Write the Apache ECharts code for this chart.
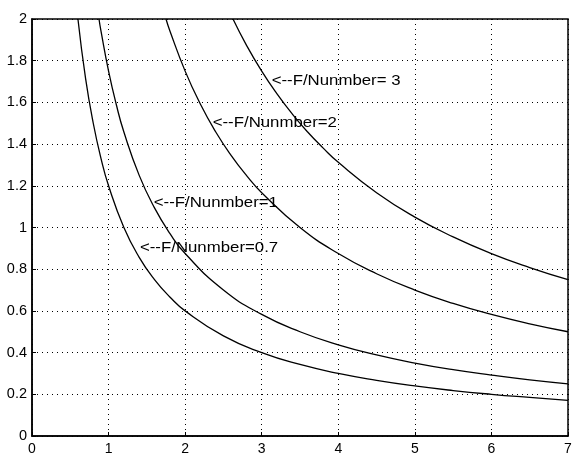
<!DOCTYPE html>
<html><head><meta charset="utf-8">
<script src="https://cdn.jsdelivr.net/npm/echarts@6/dist/echarts.min.js"></script>
<style>html,body{margin:0;padding:0;background:#fff}#c{width:576px;height:456px}</style>
</head><body><div id="c"></div>
<script>
// Data: [x, y] pairs
var curve07 = [[0.6,2.0],[0.7,1.714],[0.8,1.5],[0.9,1.333],[1.0,1.2],[1.2,1.0],[1.4,0.857],[1.6,0.75],[1.8,0.667],[2.0,0.6],[2.5,0.48],[3.0,0.4],[3.5,0.343],[4.0,0.3],[4.5,0.267],[5.0,0.24],[5.5,0.218],[6.0,0.2],[6.5,0.185],[7.0,0.171]];
var curve1 = [[0.875,2.0],[0.9,1.944],[1.0,1.75],[1.1,1.591],[1.2,1.458],[1.4,1.25],[1.6,1.094],[1.8,0.972],[2.0,0.875],[2.5,0.7],[3.0,0.583],[3.5,0.5],[4.0,0.4375],[4.5,0.389],[5.0,0.35],[5.5,0.318],[6.0,0.292],[6.5,0.269],[7.0,0.25]];
var curve2 = [[1.75,2.0],[1.8,1.944],[2.0,1.75],[2.2,1.591],[2.4,1.458],[2.6,1.346],[2.8,1.25],[3.0,1.167],[3.5,1.0],[4.0,0.875],[4.5,0.778],[5.0,0.7],[5.5,0.636],[6.0,0.583],[6.5,0.538],[7.0,0.5]];
var curve3 = [[2.625,2.0],[2.8,1.875],[3.0,1.75],[3.2,1.641],[3.4,1.544],[3.6,1.458],[3.8,1.382],[4.0,1.3125],[4.5,1.167],[5.0,1.05],[5.5,0.955],[6.0,0.875],[6.5,0.808],[7.0,0.75]];
var labelTexts = ['<--F/Nunmber=0.7','<--F/Nunmber=1','<--F/Nunmber=2','<--F/Nunmber= 3'];
var labelCoords = [[1.41,0.90],[1.59,1.115],[2.36,1.50],[3.13,1.70]];
var xTicks = [0,1,2,3,4,5,6,7];
var yTicks = [0,0.2,0.4,0.6,0.8,1,1.2,1.4,1.6,1.8,2];

var curves = [curve07, curve1, curve2, curve3];
var font = 'Liberation Sans, Arial, sans-serif';
var chart = echarts.init(document.getElementById('c'));
var series = curves.map(function(d){
  return {
    type:'line', data:d, smooth:true, showSymbol:false, symbol:'none',
    lineStyle:{color:'#000', width:1.3}, animation:false
  };
});
chart.setOption({
  animation:false,
  grid:{left:32, right:8, top:19, bottom:19, show:true, borderColor:'#000', borderWidth:1.5, backgroundColor:'#fff'},
  xAxis:{type:'value', min:0, max:7, interval:1,
    axisLine:{show:true, onZero:false, lineStyle:{color:'#000', width:1.5}},
    axisTick:{show:true, inside:true, length:4, lineStyle:{color:'#000'}},
    axisLabel:{color:'#000', fontFamily:font, fontSize:14, margin:6,
      formatter:function(v){return xTicks.indexOf(v)>=0? String(v):'';}},
    splitLine:{show:true, lineStyle:{color:'#000', type:[1,4], width:1}}},
  yAxis:{type:'value', min:0, max:2, interval:0.2,
    axisLine:{show:true, onZero:false, lineStyle:{color:'#000', width:1.5}},
    axisTick:{show:true, inside:true, length:4, lineStyle:{color:'#000'}},
    axisLabel:{color:'#000', fontFamily:font, fontSize:14.5, margin:5,
      formatter:function(v){var r=Math.round(v*10)/10; return String(r);}},
    splitLine:{show:true, lineStyle:{color:'#000', type:[1,4], width:1}}},
  series:series
});
var graphics = labelTexts.map(function(t, i){
  var p = chart.convertToPixel({gridIndex:0}, labelCoords[i]);
  return {type:'text', x:p[0], y:p[1], scaleX:1.2, scaleY:1, z:100,
    style:{text:t, fill:'#000', font:'14px ' + font, textAlign:'left', textVerticalAlign:'middle'}};
});
chart.setOption({graphic:graphics});
</script></body></html>
